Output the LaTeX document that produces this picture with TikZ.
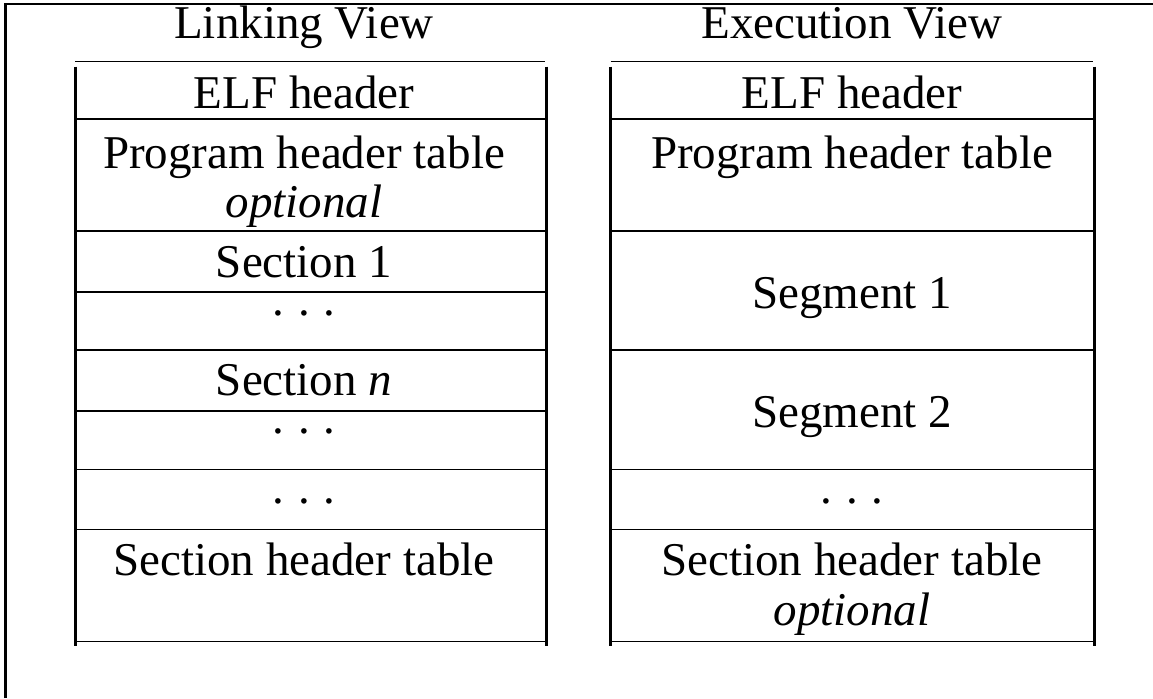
\documentclass[tikz,border=0pt]{standalone}
\usepackage{fontspec}
\setmainfont{Liberation Serif}
\usetikzlibrary{positioning}
\newcommand{\ellip}{.\hspace{0.3em}.\hspace{0.3em}.}

\begin{document}
\begin{tikzpicture}[x=0.5pt, y=-0.5pt,
  txt/.style={anchor=base, inner sep=0pt, font=\fontsize{23.5}{24.5}\selectfont},
  rule/.style={line width=0.85pt},
  side/.style={line width=1.5pt}]
  \useasboundingbox (0,0) rectangle (1153,698);
  % page frame, only top and left edge show
  \draw[line width=1.35pt] (5.5,698) -- (5.5,4) -- (1153,4);

  % linking view: heading rule, sides, row rules
  \draw[rule] (75,61.5) -- (545,61.5);
  \draw[side] (75,66.5) -- (75,646);
  \draw[side] (546.5,66.5) -- (546.5,646);
  \foreach \y in {119,231,292,350,411,469.5,529.5,641.5}
    \draw[rule] (75,\y) -- (546.5,\y);

  % execution view: heading rule, sides, row rules
  \draw[rule] (610.5,61.5) -- (1093,61.5);
  \draw[side] (610.5,66.5) -- (610.5,646);
  \draw[side] (1094.5,66.5) -- (1094.5,646);
  \foreach \y in {119,231,350,469.5,529.5,641.5}
    \draw[rule] (610.5,\y) -- (1094.5,\y);

  % linking view labels
  \node[txt] (lv) at (304,38) {Linking View};
  \node[txt] (l-elf) at (304,108) {ELF header};
  \node[txt] (l-pht) at (304,168) {Program header table};
  \node[txt] (l-opt) at (304,217) {\textit{optional}};
  \node[txt] (l-s1) at (304,277) {Section 1};
  \node[txt] (l-d1) at (304,315) {\ellip};
  \node[txt] (l-sn) at (304,395) {Section \textit{n}};
  \node[txt] (l-d2) at (304,433) {\ellip};
  \node[txt] (l-d3) at (304,503) {\ellip};
  \node[txt] (l-sht) at (304,575) {Section header table};

  % execution view labels
  \node[txt] (ev) at (852,38) {Execution View};
  \node[txt] (e-elf) at (852,108) {ELF header};
  \node[txt] (e-pht) at (852,168) {Program header table};
  \node[txt] (e-seg1) at (852,308) {Segment 1};
  \node[txt] (e-seg2) at (852,427) {Segment 2};
  \node[txt] (e-dots) at (852,503) {\ellip};
  \node[txt] (e-sht) at (852,575) {Section header table};
  \node[txt] (e-opt) at (852,625) {\textit{optional}};
\end{tikzpicture}
\end{document}
